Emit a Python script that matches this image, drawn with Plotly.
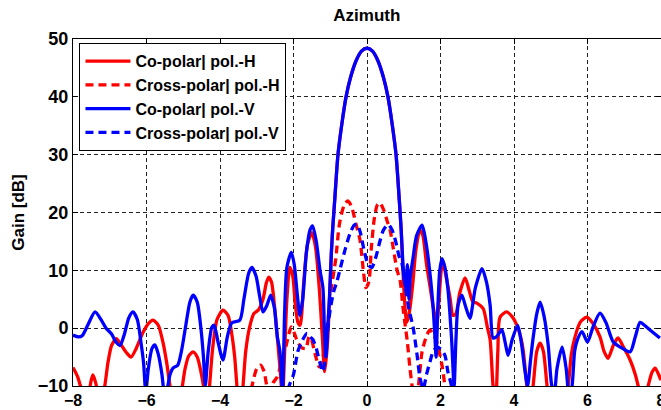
import plotly.graph_objects as go

# Azimuth cut of the antenna pattern (angle in degrees, gain in dB)

co_h_x = [-8.0, -7.88, -7.75, -7.62, -7.52, -7.46, -7.38, -7.28, -7.15, -7.05, -6.95, -6.82, -6.7, -6.55,
          -6.42, -6.28, -6.1, -5.95, -5.82, -5.68, -5.55, -5.45, -5.36, -5.22, -5.05, -4.95, -4.85, -4.73,
          -4.62, -4.52, -4.45, -4.38, -4.3, -4.2, -4.08, -3.92, -3.78, -3.68, -3.6, -3.54, -3.46, -3.38,
          -3.3, -3.2, -3.08, -2.95, -2.83, -2.74, -2.68, -2.6, -2.52, -2.45, -2.37, -2.3, -2.24, -2.18,
          -2.1, -2.02, -1.95, -1.88, -1.82, -1.72, -1.62, -1.5, -1.4, -1.3, -1.22, -1.15, -1.08, -1.02,
          -0.97, -0.93, -0.88, -0.79, -0.68, -0.57, -0.45, -0.3, -0.15, 0.0, 0.15, 0.3, 0.45, 0.57, 0.68,
          0.79, 0.88, 0.93, 0.97, 1.02, 1.08, 1.13, 1.18, 1.25, 1.33, 1.44, 1.52, 1.62, 1.72, 1.82, 1.9,
          1.96, 2.02, 2.07, 2.15, 2.26, 2.34, 2.42, 2.52, 2.67, 2.78, 2.88, 3.0, 3.16, 3.28, 3.35, 3.43,
          3.5, 3.56, 3.62, 3.8, 3.95, 4.08, 4.18, 4.25, 4.35, 4.43, 4.52, 4.62, 4.71, 4.8, 4.9, 5.0, 5.2,
          5.47, 5.56, 5.66, 5.8, 5.98, 6.15, 6.34, 6.45, 6.56, 6.7, 6.83, 6.98, 7.16, 7.3, 7.38, 7.5,
          7.65, 7.75, 7.84, 7.92, 8.0]
co_h_db = [-6.8, -8.3, -11, -13, -9.5, -8.1, -9.5, -13, -10.5, -6, -3, -1.8, -2.8, -4.2,
           -5, -3.5, -0.8, 0.8, 1.4, 0.5, -2.5, -6, -10, -15, -11, -7, -4.8, -4.1,
           -5, -7.5, -10, -14, -11, -3.5, 1.5, 3.1, 2.2, -1, -5, -10, -15, -10.5,
           -4, 0, 2.5, 3.2, 5, 7.8, 8.8, 8, 4, -0.9, -6.7, -12, -4, 5,
           10.5, 9, 4, 1, 0.5, 8, 14.5, 16.5, 14, 7, -1, -7.5, -3, 5,
           13, 17.5, 22, 30, 35.5, 40, 43.3, 46.2, 47.9, 48.4, 47.9, 46.2, 43.3, 40, 35.5,
           30, 22, 17, 11, 5, 1, 2, 4, 8, 13.5, 17, 16, 11, 7, 3, 1,
           5, 10, 11.4, 9, 5.2, 2.2, 2.5, 6, 8.7, 6.5, 4.6, 4.3, 3.4, 0, -2, -10,
           -13, -4, 1.9, 2.8, 2, 0.5, -1.5, -3.8, -10, -14, -10, -4, -2.6, -4, -10, -14, -16,
           -10, -4.5, -1.5, 1, 1.9, 0.8, -1.5, -4, -5.2, -3, -1.7, -3.3, -5.5, -8, -10, -13,
           -10, -7.7, -6.9, -7.8, -9]

x_h_x = [-3.3, -3.13, -3.0, -2.9, -2.8, -2.72, -2.6, -2.56, -2.45, -2.35, -2.2, -2.06, -1.97, -1.88,
         -1.77, -1.66, -1.58, -1.52, -1.42, -1.3, -1.2, -1.12, -1.05, -0.98, -0.92, -0.85, -0.75,
         -0.62, -0.52, -0.42, -0.3, -0.19, -0.1, -0.03, 0.05, 0.12, 0.2, 0.28, 0.35, 0.45, 0.55, 0.63,
         0.71, 0.82, 0.9, 0.98, 1.04, 1.1, 1.17, 1.25, 1.32, 1.4, 1.5, 1.63, 1.71, 1.8, 1.9, 2.04,
         2.12, 2.2, 2.3]
x_h_db = [-15, -10, -7, -6.4, -7.5, -10, -11, -9.5, -8.5, -6.5, -3, 0.2, -1, -2.5,
          -3.4, -3.5, -1.5, -1.8, -4.3, -6.7, -5, -1.5, 2, 6.5, 9, 12, 18,
          21.3, 22, 21, 18, 15.2, 10, 7, 8, 14, 19, 21.3, 21.7, 20.5, 18.5, 16.9,
          14, 10, 8.3, 3.5, 0.5, -2.5, -7, -11, -13, -10, -4, -1.2, -0.3, -1, -2.4, -6.4,
          -10, -14, -16]

co_v_x = [-8.0, -7.85, -7.75, -7.6, -7.4, -7.25, -7.1, -6.95, -6.83, -6.72, -6.6, -6.48, -6.37, -6.25,
          -6.15, -6.08, -6.02, -5.95, -5.85, -5.77, -5.68, -5.58, -5.5, -5.42, -5.36, -5.28, -5.15,
          -5.05, -4.93, -4.82, -4.73, -4.62, -4.52, -4.45, -4.4, -4.32, -4.22, -4.16, -4.05, -3.92,
          -3.8, -3.68, -3.46, -3.35, -3.22, -3.13, -3.02, -2.92, -2.83, -2.72, -2.62, -2.52, -2.44,
          -2.37, -2.3, -2.24, -2.18, -2.06, -1.98, -1.9, -1.83, -1.75, -1.65, -1.55, -1.48, -1.38,
          -1.28, -1.2, -1.16, -1.12, -1.07, -1.02, -0.97, -0.93, -0.88, -0.79, -0.68, -0.57, -0.45,
          -0.3, -0.15, 0.0, 0.15, 0.3, 0.45, 0.57, 0.68, 0.79, 0.88, 0.93, 0.97, 1.0, 1.05, 1.1, 1.14,
          1.18, 1.25, 1.35, 1.5, 1.6, 1.71, 1.8, 1.85, 1.88, 1.93, 1.98, 2.04, 2.12, 2.2, 2.3, 2.37,
          2.42, 2.48, 2.58, 2.68, 2.8, 2.95, 3.13, 3.25, 3.35, 3.43, 3.52, 3.67, 3.76, 3.84, 3.95,
          4.1, 4.2, 4.3, 4.37, 4.45, 4.52, 4.62, 4.71, 4.82, 4.93, 5.03, 5.1, 5.17, 5.31, 5.42, 5.5,
          5.58, 5.65, 5.72, 5.85, 6.0, 6.15, 6.34, 6.5, 6.7, 6.9, 7.16, 7.3, 7.43, 7.55, 7.7, 7.97]
co_v_db = [-1.2, -1.5, -1.3, 0.5, 2.8, 1.6, 0, -1, -2.4, -3, -1, 1.8, 2.8, 1.5,
           -2.5, -6, -11, -7, -3.5, -2.9, -4.5, -8, -12, -10, -8, -6.9, -6.4,
           -4, 0.5, 4.5, 5.7, 4.5, 0, -5, -10, -4, 0.2, 0.5, -2.5, -5.5,
           -1.5, 0.9, 1.4, 5, 9.5, 10.5, 9, 5.5, 2.8, 4, 5.7, 3.5, -1.5,
           -4, -11, 3, 10.5, 13.1, 11, 6, 2.2, 5, 13, 17, 17.7, 15,
           10, 7, 0, -5, 0, 5.5, 13, 17.5, 22, 30, 35.5, 40, 43.3,
           46.2, 47.9, 48.4, 47.9, 46.2, 43.3, 40, 35.5, 30, 22, 17, 12, 9, 7, 11, 5,
           9, 12, 16, 17.8, 15, 9.7, 3.5, -1.7, -5, 4, 10, 12, 10.5, 6.9, -1.7, -10,
           -2, 4, 5.7, 3.8, 1.7, 7, 10.3, 8, 4, -1.7, -1.5, -0.3, -2.5, -4.7, -2,
           0.5, -2.5, -7.5, -10, -5.5, -1.7, 2.5, 4.5, 2, -2.9, -10, -11, -7, -3.3, -7, -12,
           -10, -4, -2.1, -0.6, -2.4, 0.2, 2.6, 1, -2.4, -3.3, -4.1, -1.5, 1, 0.5, -0.3, -1.7]

x_v_x = [-2.3, -2.12, -2.0, -1.88, -1.75, -1.63, -1.55, -1.47, -1.38, -1.28, -1.2, -1.12, -1.05, -0.98,
         -0.9, -0.82, -0.72, -0.6, -0.46, -0.35, -0.27, -0.18, -0.08, 0.03, 0.13, 0.25, 0.35, 0.45,
         0.58, 0.68, 0.78, 0.87, 0.95, 1.05, 1.15, 1.25, 1.36, 1.44, 1.53, 1.62, 1.71, 1.8, 1.9, 2.0,
         2.12, 2.2, 2.3, 2.4]
x_v_db = [-15, -10, -8, -4, -2, -0.9, -1.5, -2, -3.5, -6, -7.5, -4, 1, 4,
          6.5, 8, 10.5, 13.5, 16.4, 17.8, 18, 16.5, 13.5, 11, 10.5, 12.5, 15, 17,
          17.9, 17, 15, 12.5, 11.2, 7, 3, 0.3, -4.5, -8.5, -10.5, -8, -5.9, -4, -3.3, -3.6,
          -4.7, -7.5, -10, -15]

series_names = ["Co-polar| pol.-H", "Cross-polar| pol.-H", "Co-polar| pol.-V", "Cross-polar| pol.-V"]
x_ticks = [-8, -6, -4, -2, 0, 2, 4, 6, 8]
y_ticks = [-10, 0, 10, 20, 30, 40, 50]

RED = "#ff0000"
BLUE = "#0000ff"
DASH = "8px,5px"
FONT = "Liberation Sans"


def pattern_line(color, dash=None):
    return dict(color=color, width=3.3, dash=dash, shape="spline", smoothing=0.7)


fig = go.Figure()
fig.add_trace(go.Scatter(x=co_h_x, y=co_h_db, mode="lines", name=series_names[0],
                         line=pattern_line(RED)))
fig.add_trace(go.Scatter(x=x_h_x, y=x_h_db, mode="lines", name=series_names[1],
                         line=pattern_line(RED, DASH)))
fig.add_trace(go.Scatter(x=co_v_x, y=co_v_db, mode="lines", name=series_names[2],
                         line=pattern_line(BLUE)))
fig.add_trace(go.Scatter(x=x_v_x, y=x_v_db, mode="lines", name=series_names[3],
                         line=pattern_line(BLUE, DASH)))

fig.update_layout(
    width=661, height=410,
    margin=dict(l=73, r=0, t=39, b=24),
    paper_bgcolor="white", plot_bgcolor="white",
    title=dict(text="Azimuth", x=0.555, xanchor="center", y=0.963, yanchor="middle",
               font=dict(family=FONT, size=17, color="black", weight="bold")),
    legend=dict(x=0.011, y=0.988, xanchor="left", yanchor="top",
                bgcolor="white", bordercolor="black", borderwidth=1,
                font=dict(family=FONT, size=16, color="black", weight="bold"),
                itemwidth=45, tracegroupgap=0),
    showlegend=True,
)

fig.update_xaxes(range=[-8, 8], tickvals=x_ticks, ticks="inside", ticklen=5, tickcolor="black",
                 showline=True, linecolor="black", linewidth=1, mirror="ticks",
                 showgrid=True, gridcolor="#222222", gridwidth=1, griddash="4px,3px",
                 zeroline=False, ticklabeloverflow="allow", automargin=False,
                 tickfont=dict(family=FONT, size=16, color="black", weight="bold"))
fig.update_yaxes(range=[-10, 50], tickvals=y_ticks, ticks="inside", ticklen=5, tickcolor="black",
                 showline=True, linecolor="black", linewidth=1, mirror="ticks",
                 showgrid=True, gridcolor="#222222", gridwidth=1, griddash="4px,3px",
                 zeroline=False, automargin=False,
                 tickfont=dict(family=FONT, size=18, color="black", weight="bold"),
                 title=dict(text="Gain [dB]", standoff=8,
                            font=dict(family=FONT, size=17, color="black", weight="bold")))

fig.write_html("out.html")
